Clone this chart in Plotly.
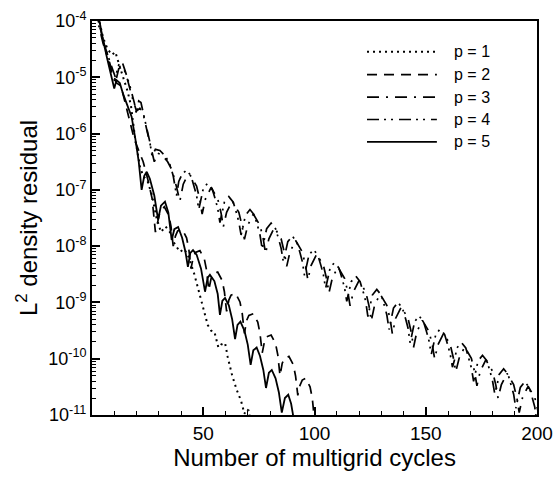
import plotly.graph_objects as go

# ---------------- data ----------------
p1_cycles = [1, 3, 5, 7, 9, 10.5, 12, 14, 16, 17.5, 19.3, 21.6, 23, 25, 27, 29, 31, 33, 35, 37,
             39.5, 41.5, 43.5, 46, 48, 50, 52, 53.5, 55, 56.8, 58, 59.8, 61, 63, 65, 67, 68.5,
             69.5, 70.5, 71.5]
p1_res = [3.16e-4, 1.12e-4, 5.01e-5, 3.16e-5, 2.51e-5, 2.82e-5, 1.78e-5, 1.0e-5, 5.62e-6, 3.16e-6,
          8.71e-7, 2.51e-7, 1.78e-7, 1.41e-7, 7.94e-8, 3.16e-8, 1.78e-8, 2.24e-8, 1.78e-8, 1.12e-8,
          7.94e-9, 8.91e-9, 6.31e-9, 3.16e-9, 1.58e-9, 7.94e-10, 3.98e-10, 3.16e-10, 3.02e-10,
          1.58e-10, 1.78e-10, 1.91e-10, 1.07e-10, 5.01e-11, 2.82e-11, 1.78e-11, 1.05e-11,
          1.26e-11, 1.20e-11, 6.31e-12]

p2_cycles = [1, 3, 5, 7, 9, 11, 13, 15, 17, 19, 21, 23, 25, 27, 28.5, 29.5, 30.5,
             32.5, 34.5, 35.5, 36.5, 37.5, 38.5,
             40.5, 42.5, 43.5, 44.5, 45.5, 46.5,
             48.5, 50.5, 51.5, 52.5, 53.5, 54.5,
             56.5, 58.5, 59.5, 60.5, 61.5, 62.5,
             64.5, 66.5, 67.5, 68.5, 69.5, 70.5,
             72.5, 74.5, 75.5, 76.5, 77.5, 78.5,
             80.5, 82.5, 83.5, 84.5, 85.5, 86.5,
             88.5, 90.5, 91.5, 92.5, 93.5, 94.5,
             96, 98, 99, 100]
p2_res = [2.82e-4, 1.0e-4, 4.47e-5, 2.51e-5, 1.26e-5, 7.94e-6, 7.08e-6, 3.55e-6, 1.58e-6, 7.94e-7,
          5.01e-7, 3.16e-7, 1.58e-7, 7.08e-8, 1.78e-8, 2.51e-8, 3.98e-8,
          5.01e-8, 3.55e-8, 2.24e-8, 1.0e-8, 1.51e-8, 1.86e-8,
          2.0e-8, 1.41e-8, 8.91e-9, 3.98e-9, 6.31e-9, 7.76e-9,
          8.32e-9, 5.89e-9, 3.72e-9, 1.66e-9, 2.63e-9, 3.24e-9,
          3.47e-9, 2.45e-9, 1.55e-9, 6.92e-10, 1.10e-9, 1.35e-9,
          1.45e-9, 1.02e-9, 6.46e-10, 2.82e-10, 4.79e-10, 5.89e-10,
          6.31e-10, 4.47e-10, 2.82e-10, 1.26e-10, 2.0e-10, 2.45e-10,
          2.63e-10, 1.86e-10, 1.17e-10, 5.01e-11, 8.32e-11, 1.02e-10,
          1.10e-10, 7.76e-11, 4.90e-11, 2.24e-11, 3.39e-11, 4.17e-11,
          4.47e-11, 3.16e-11, 2.0e-11, 7.94e-12]

p3_cycles = [1, 3, 5, 7, 9, 10.5, 12, 14, 16, 18, 20, 21.5, 23, 25, 27, 28, 29.5, 31.5, 34, 36,
             38, 39.5, 41, 42.5,
             44, 47, 48.5, 49.5, 51,
             53.5, 56.5, 58, 59, 60.5,
             63, 66, 67.5, 68.5, 70,
             72.5, 75.5, 77, 78, 79.5,
             82, 85, 86.5, 87.5, 89,
             91.5, 94.5, 96, 97, 98.5,
             101, 104, 105.5, 106.5, 108,
             110.5, 113.5, 115, 116, 117.5,
             120, 123, 124.5, 125.5, 127,
             129.5, 132.5, 134, 135, 136.5,
             139, 142, 143.5, 144.5, 146,
             148.5, 151.5, 153, 154, 155.5,
             158, 161, 162.5, 163.5, 165,
             167.5, 170.5, 172, 173, 174.5,
             177, 180, 181.5, 182.5, 184,
             186.5, 189.5, 191, 192, 193.5,
             196, 199, 200.5]
p3_res = [1.78e-4, 7.94e-5, 3.98e-5, 2.24e-5, 1.12e-5, 7.94e-6, 1.41e-5, 1.58e-5, 8.91e-6, 4.47e-6,
          2.51e-6, 2.82e-6, 2.24e-6, 1.0e-6, 5.01e-7, 3.16e-7, 4.47e-7, 4.17e-7, 3.16e-7, 2.24e-7,
          1.12e-7, 6.31e-8, 1.26e-7, 1.66e-7,
          1.86e-7, 1.17e-7, 6.61e-8, 3.72e-8, 6.92e-8,
          1.10e-7, 6.92e-8, 3.89e-8, 2.19e-8, 3.98e-8,
          6.31e-8, 3.98e-8, 2.24e-8, 1.32e-8, 2.34e-8,
          3.72e-8, 2.34e-8, 1.32e-8, 7.41e-9, 1.35e-8,
          2.14e-8, 1.35e-8, 7.59e-9, 4.37e-9, 7.94e-9,
          1.26e-8, 7.94e-9, 4.47e-9, 2.51e-9, 4.57e-9,
          7.24e-9, 4.57e-9, 2.57e-9, 1.48e-9, 2.69e-9,
          4.27e-9, 2.69e-9, 1.51e-9, 8.71e-10, 1.55e-9,
          2.45e-9, 1.55e-9, 8.71e-10, 4.68e-10, 8.91e-10,
          1.41e-9, 8.91e-10, 5.01e-10, 2.75e-10, 5.25e-10,
          8.32e-10, 5.25e-10, 2.95e-10, 1.58e-10, 3.02e-10,
          4.79e-10, 3.02e-10, 1.70e-10, 1.0e-10, 1.78e-10,
          2.82e-10, 1.78e-10, 1.0e-10, 5.89e-11, 1.02e-10,
          1.62e-10, 1.02e-10, 5.75e-11, 3.31e-11, 6.03e-11,
          9.55e-11, 6.03e-11, 3.39e-11, 2.0e-11, 3.47e-11,
          5.50e-11, 3.47e-11, 1.95e-11, 1.10e-11, 2.04e-11,
          3.24e-11, 2.04e-11, 1.15e-11]

p4_cycles = [1, 3, 5, 7, 9, 10.5, 12, 13.5, 15, 17, 19, 20, 21, 22, 24, 26, 27, 28.5, 30.5, 33,
             35, 36.5, 38, 39, 40.5,
             42.5, 44.5, 46, 47, 48, 49, 50,
             52, 54, 55.5, 56.5, 57.5, 58.5, 59.5,
             61.5, 63.5, 65, 66, 67, 68, 69,
             71, 73, 74.5, 75.5, 76.5, 77.5, 78.5,
             80.5, 82.5, 84, 85, 86, 87, 88,
             90, 92, 93.5, 94.5, 95.5, 96.5, 97.5,
             99.5, 101.5, 103, 104, 105, 106, 107,
             109, 111, 112.5, 113.5, 114.5, 115.5, 116.5,
             118.5, 120.5, 122, 123, 124, 125, 126,
             128, 130, 131.5, 132.5, 133.5, 134.5, 135.5,
             137.5, 139.5, 141, 142, 143, 144, 145,
             147, 149, 150.5, 151.5, 152.5, 153.5, 154.5,
             156.5, 158.5, 160, 161, 162, 163, 164,
             166, 168, 169.5, 170.5, 171.5, 172.5, 173.5,
             175.5, 177.5, 179, 180, 181, 182, 183,
             185, 187, 188.5, 189.5, 190.5, 191.5, 192.5,
             194.5, 196.5, 198, 199, 200]
p4_res = [2.0e-4, 8.91e-5, 4.47e-5, 2.51e-5, 1.41e-5, 1.0e-5, 1.66e-5, 1.91e-5, 1.26e-5, 7.08e-6,
          3.55e-6, 2.24e-6, 3.80e-6, 3.55e-6, 1.58e-6, 7.08e-7, 3.98e-7, 5.25e-7, 5.0e-7, 3.98e-7,
          2.82e-7, 1.78e-7, 7.94e-8, 1.41e-7, 1.91e-7,
          2.24e-7, 1.78e-7, 1.12e-7, 7.94e-8, 4.47e-8, 6.61e-8, 1.05e-7,
          1.32e-7, 1.05e-7, 6.61e-8, 4.68e-8, 2.63e-8, 3.80e-8, 6.03e-8,
          7.59e-8, 6.03e-8, 3.80e-8, 2.69e-8, 1.58e-8, 2.24e-8, 3.55e-8,
          4.47e-8, 3.55e-8, 2.24e-8, 1.58e-8, 8.91e-9, 1.29e-8, 2.04e-8,
          2.57e-8, 2.04e-8, 1.29e-8, 9.12e-9, 5.25e-9, 7.59e-9, 1.20e-8,
          1.51e-8, 1.20e-8, 7.59e-9, 5.37e-9, 3.02e-9, 4.37e-9, 6.92e-9,
          8.71e-9, 6.92e-9, 4.37e-9, 3.09e-9, 1.78e-9, 2.57e-9, 4.07e-9,
          5.13e-9, 4.07e-9, 2.57e-9, 1.82e-9, 1.05e-9, 1.48e-9, 2.34e-9,
          2.95e-9, 2.34e-9, 1.48e-9, 1.05e-9, 5.62e-10, 8.51e-10, 1.35e-9,
          1.70e-9, 1.35e-9, 8.51e-10, 6.03e-10, 3.31e-10, 5.01e-10, 7.94e-10,
          1.0e-9, 7.94e-10, 5.01e-10, 3.55e-10, 1.91e-10, 2.88e-10, 4.57e-10,
          5.75e-10, 4.57e-10, 2.88e-10, 2.04e-10, 1.20e-10, 1.70e-10, 2.69e-10,
          3.39e-10, 2.69e-10, 1.70e-10, 1.20e-10, 7.08e-11, 9.77e-11, 1.55e-10,
          1.95e-10, 1.55e-10, 9.77e-11, 6.92e-11, 3.98e-11, 5.75e-11, 9.12e-11,
          1.15e-10, 9.12e-11, 5.75e-11, 4.07e-11, 2.40e-11, 3.31e-11, 5.25e-11,
          6.61e-11, 5.25e-11, 3.31e-11, 2.34e-11, 1.32e-11, 1.95e-11, 3.09e-11,
          3.89e-11, 3.09e-11, 1.95e-11, 1.38e-11, 7.08e-12]

p5_cycles = [1, 3, 5, 7, 9, 10, 11, 12.5, 14, 16, 17.8, 19.5, 21, 22.3, 23.5, 24.6, 26, 28, 29.7,
             31, 32.8, 34.3, 35.8, 37, 38.7, 40.5, 42, 43.1, 44.2, 45.4, 47, 49, 50.8, 52, 53,
             55, 56.5, 57.5, 58.6, 59.8, 61.5, 63, 64.3, 65.4, 66.7, 68.5, 70, 71.3, 72.5, 74,
             75.5, 77, 78.2, 79.5, 80.8, 82.5, 84, 85.3, 86.7, 88.2, 89.5, 90.8]
p5_res = [3.16e-4, 1.12e-4, 4.47e-5, 2.0e-5, 1.0e-5, 6.31e-6, 8.91e-6, 7.94e-6, 5.01e-6, 3.16e-6,
          2.0e-6, 7.94e-7, 3.16e-7, 1.0e-7, 1.78e-7, 2.09e-7, 1.58e-7, 7.94e-8, 2.95e-8,
          5.25e-8, 6.17e-8, 3.98e-8, 1.29e-8, 2.0e-8, 2.19e-8, 1.41e-8, 7.94e-9, 4.27e-9,
          7.59e-9, 8.51e-9, 7.08e-9, 3.98e-9, 1.55e-9, 2.75e-9, 3.09e-9, 2.40e-9, 1.41e-9,
          6.03e-10, 1.07e-9, 1.20e-9, 8.91e-10, 5.01e-10, 2.24e-10, 3.98e-10, 4.57e-10,
          3.16e-10, 1.78e-10, 7.76e-11, 1.41e-10, 1.58e-10, 1.12e-10, 6.31e-11, 3.02e-11,
          5.62e-11, 6.31e-11, 4.47e-11, 2.51e-11, 1.10e-11, 2.0e-11, 2.29e-11, 1.58e-11,
          7.94e-12]

series_names = ["p = 1", "p = 2", "p = 3", "p = 4", "p = 5"]
x_tick_vals = [50, 100, 150, 200]
x_tick_text = ["50", "100", "150", "200"]
y_tick_vals = [1e-4, 1e-5, 1e-6, 1e-7, 1e-8, 1e-9, 1e-10, 1e-11]
y_tick_text = ["10<sup>-4</sup>", "10<sup>-5</sup>", "10<sup>-6</sup>", "10<sup>-7</sup>",
               "10<sup>-8</sup>", "10<sup>-9</sup>", "10<sup>-10</sup>", "10<sup>-11</sup>"]

# ---------------- styles ----------------
dashes = ["2px,4px", "10px,7px", "12px,7px,2px,7px", "12px,5px,2px,5px,2px,6px", "solid"]
widths = [2.0, 1.7, 1.7, 1.7, 1.8]
series_x = [p1_cycles, p2_cycles, p3_cycles, p4_cycles, p5_cycles]
series_y = [p1_res, p2_res, p3_res, p4_res, p5_res]

FONT = "Liberation Sans, Arial, sans-serif"

fig = go.Figure()
for name, xs, ys, d, w in zip(series_names, series_x, series_y, dashes, widths):
    fig.add_trace(go.Scatter(x=xs, y=ys, mode="lines", name=name, showlegend=False,
                             line=dict(color="black", width=w, dash=d)))

# legend drawn with long line samples, like the original
leg_y = [0.922, 0.864, 0.807, 0.750, 0.693]
for name, d, w, yy in zip(series_names, dashes, widths, leg_y):
    fig.add_shape(type="line", xref="paper", yref="paper", x0=0.618, x1=0.775, y0=yy, y1=yy,
                  line=dict(color="black", width=w, dash=d))
    fig.add_annotation(xref="paper", yref="paper", x=0.81, y=yy, text=name, showarrow=False,
                       xanchor="left", yanchor="middle", font=dict(size=16, color="black", family=FONT))

axis_common = dict(showline=True, linecolor="black", linewidth=2, mirror=True,
                   ticks="inside", tickcolor="black", tickwidth=1.5, ticklen=8,
                   showgrid=False, zeroline=False, automargin=False)

fig.update_xaxes(range=[0, 200], tickvals=x_tick_vals, ticktext=x_tick_text,
                 tickfont=dict(size=19, color="black", family=FONT),
                 minor=dict(dtick=10, ticks="inside", ticklen=4, tickcolor="black", tickwidth=1.2),
                 title=dict(text="Number of multigrid cycles", font=dict(size=24, color="black", family=FONT),
                            standoff=6),
                 **axis_common)
fig.update_yaxes(type="log", range=[-11, -4], tickvals=y_tick_vals, ticktext=y_tick_text,
                 tickfont=dict(size=18, color="black", family=FONT),
                 minor=dict(dtick="D1", ticks="inside", ticklen=4, tickcolor="black", tickwidth=1.2),
                 title=dict(text="L<sup>2</sup> density residual", font=dict(size=24, color="black", family=FONT),
                            standoff=4),
                 **axis_common)

fig.update_layout(width=555, height=480, margin=dict(l=92, r=18, t=21, b=65),
                  paper_bgcolor="white", plot_bgcolor="white", showlegend=False)

fig.write_html("out.html")
